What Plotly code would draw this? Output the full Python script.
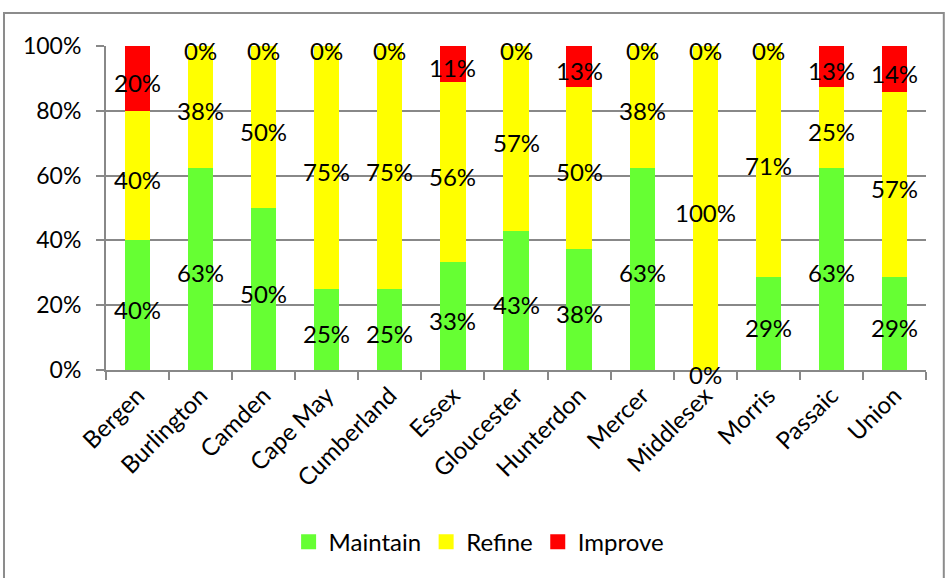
import plotly.graph_objects as go

# County ratings, share of respondents (%)
counties = ["Bergen", "Burlington", "Camden", "Cape May", "Cumberland", "Essex",
            "Gloucester", "Hunterdon", "Mercer", "Middlesex", "Morris", "Passaic", "Union"]
maintain = [40.0, 62.5, 50.0, 25.0, 25.0, 33.3, 42.9, 37.5, 62.5, 0.0, 28.6, 62.5, 28.6]
refine = [40.0, 37.5, 50.0, 75.0, 75.0, 55.6, 57.1, 50.0, 37.5, 100.0, 71.4, 25.0, 57.1]
improve = [20.0, 0.0, 0.0, 0.0, 0.0, 11.1, 0.0, 12.5, 0.0, 0.0, 0.0, 12.5, 14.3]

y_ticks = [0, 20, 40, 60, 80, 100]
y_tick_labels = ["0%", "20%", "40%", "60%", "80%", "100%"]

series = [
    ("Maintain", maintain, "#66FF33"),
    ("Refine", refine, "#FFFF00"),
    ("Improve", improve, "#FF0000"),
]

FONT = "Lato"
FS = 24


def pct_label(v):
    return f"{int(v + 0.5)}%"


fig = go.Figure()

for name, vals, color in series:
    fig.add_trace(go.Bar(
        x=counties, y=vals, name=name, marker=dict(color=color, line=dict(width=0)),
        hoverinfo="skip", showlegend=False,
    ))

# Data labels centred in each stacked segment (zero-height segments included)
annotations = []
base = [0.0] * len(counties)
for name, vals, color in series:
    for cat, b, v in zip(counties, base, vals):
        annotations.append(dict(
            x=cat, y=b + v / 2, xref="x", yref="y", text=pct_label(v),
            showarrow=False, yshift=-4, xanchor="center", yanchor="middle",
            font=dict(family=FONT, size=FS, color="#000000"),
        ))
    base = [b + v for b, v in zip(base, vals)]

# Legend entries with square swatches
for name, vals, color in series:
    fig.add_trace(go.Scatter(
        x=[None], y=[None], mode="markers", name=name,
        marker=dict(symbol="square", size=15, color=color),
    ))

fig.update_layout(
    barmode="stack",
    bargap=0.6,
    width=946, height=578,
    margin=dict(l=106, r=20, t=46, b=208),
    paper_bgcolor="white",
    plot_bgcolor="white",
    font=dict(family=FONT, size=FS, color="#000000"),
    showlegend=True,
    legend=dict(orientation="h", x=0.455, xanchor="center", y=-0.531, yanchor="middle",
                font=dict(family=FONT, size=FS), traceorder="normal", itemwidth=30),
    annotations=annotations,
    shapes=[dict(type="rect", xref="paper", yref="paper",
                 x0=-0.1244, x1=1.0217, y0=-0.7, y1=1.102,
                 line=dict(color="#8C8C8C", width=2), fillcolor="rgba(0,0,0,0)")],
)

fig.update_yaxes(
    range=[0, 100], tickmode="array", tickvals=y_ticks, ticktext=y_tick_labels,
    showgrid=True, gridcolor="#888888", gridwidth=2,
    showline=True, linecolor="#888888", linewidth=2,
    ticks="outside", ticklen=8, tickcolor="#888888", tickwidth=2,
    zeroline=False, tickfont=dict(family=FONT, size=23), ticklabelstandoff=10,
)
fig.update_xaxes(
    tickangle=-45, showline=True, linecolor="#888888", linewidth=2,
    ticks="outside", ticklen=8, tickcolor="#888888", tickwidth=2, tickson="boundaries",
    showgrid=False, tickfont=dict(family=FONT, size=FS),
)

fig.write_html("out.html")
